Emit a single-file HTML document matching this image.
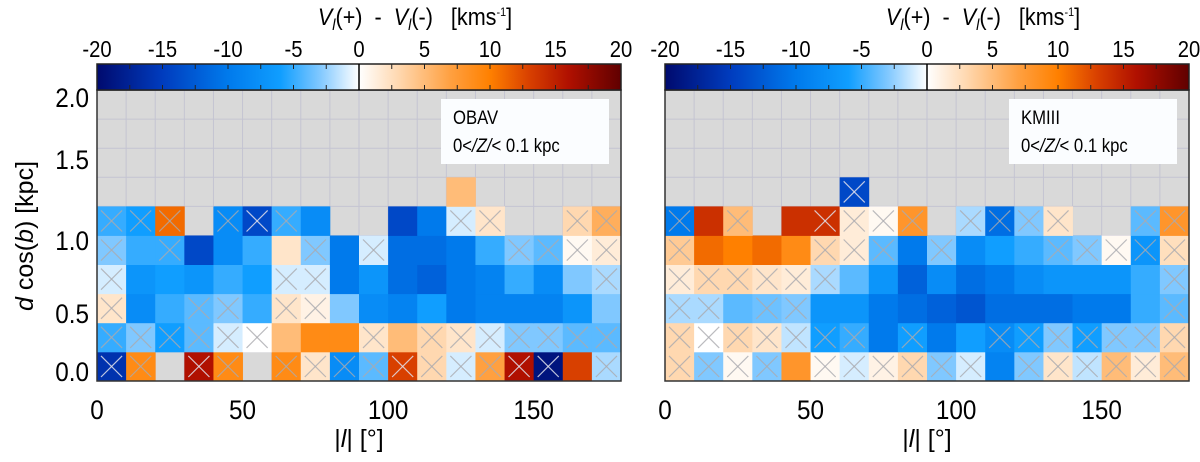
<!DOCTYPE html>
<html><head><meta charset="utf-8">
<style>
body{margin:0;background:#fff;width:1200px;height:457px;overflow:hidden;font-family:"Liberation Sans",sans-serif;}
svg text{font-family:"Liberation Sans",sans-serif;fill:#000;white-space:pre;}
</style></head>
<body>
<svg id="fig" width="1200" height="457" viewBox="0 0 1200 457" xmlns="http://www.w3.org/2000/svg"></svg>
<script>
// ---- data (rows bottom-to-top: d cos(b) bins of 0.2 kpc; columns |l| bins of 10 deg) ----
const lonBins = [0,10,20,30,40,50,60,70,80,90,100,110,120,130,140,150,160,170];
const distBins = [0,0.2,0.4,0.6,0.8,1.0,1.2];
const xTicks = [0,50,100,150];
const yTickLabels = ["0.0","0.5","1.0","1.5","2.0"];
const cbTicks = [-20,-15,-10,-5,0,5,10,15,20];
const N = null;
const obavValues = [
 [-16,9,N,16,9,N,9,2,-8,-4,13,3,-1,7,16,-19,13,-2],
 [-5,-3,-6,-4,-1,0,5,9,9,2,5,3,2,-1,-3,-3,-4,-4],
 [2,-8,-5,-4,-3,-5,2,1,-3,-8,-9,-6,-10,-9,-9,-9,-7,-3],
 [-1,-7,-6,-7,-5,-6,-1,-1,-10,-7,-11,-12,-10,-9,-5,-8,-3,-2],
 [-3,-5,-5,-14,-8,-5,2,-3,-10,-1,-11,-11,-10,-5,-3,-4,0.5,1.5],
 [-5,-6,11,N,-8,-14,-5,-8,N,N,-14,-10,-1,2,N,N,3,6],
 [N,N,N,N,N,N,N,N,N,N,N,N,5,N,N,N,N,N]
];
const obavCross = [
 [1,1,0,1,1,0,1,1,1,1,1,1,1,1,1,1,0,1],
 [1,1,1,1,1,1,0,0,0,1,0,1,1,1,1,1,1,1],
 [1,0,0,1,1,0,1,1,0,0,0,0,0,0,0,0,0,0],
 [1,0,0,0,0,0,1,1,0,0,0,0,0,0,0,0,0,1],
 [1,0,1,0,0,0,0,1,0,1,0,0,0,0,1,1,1,1],
 [1,1,1,0,1,1,1,0,0,0,0,0,1,1,0,0,1,1],
 [0,0,0,0,0,0,0,0,0,0,0,0,0,0,0,0,0,0]
];
const kmValues = [
 [3,-3,0.5,-3,8,0.5,-1,1,3,-3,-1,-9,-3,2,-1.5,5,1.5,5],
 [3,0,3,2,-1.5,-6,-5,-10,-6,-10,-6,-8,-6,-3,-6,-3,-3,3],
 [-2,-2,-4,-3.5,-3,-7,-7,-10,-11,-12,-13,-11,-11,-11,-10,-10,-5,-4],
 [1.5,3,3,2,1.5,-2,-4,-7,-12,-8,-11,-10,-8,-7,-7,-7,-5,-3],
 [4,11,10,11,9,3,1.5,-4,-10,-3,-8,-6,-5,-4,-3,0.5,-7,2.5],
 [-10,14,5,N,14,14,1.5,0.5,8,N,-2,-11,-3,2,N,N,-4,8],
 [N,N,N,N,N,N,-14,N,N,N,N,N,N,N,N,N,N,N]
];
const kmCross = [
 [1,1,1,1,0,1,1,1,1,1,1,0,1,1,1,1,1,1],
 [1,1,1,1,1,1,1,0,1,0,0,1,1,1,1,1,1,1],
 [1,1,0,1,1,0,0,0,0,0,0,0,0,0,0,0,0,1],
 [1,1,1,1,1,1,0,0,0,0,0,0,0,0,0,0,0,1],
 [1,0,0,0,0,1,1,1,0,1,0,0,0,1,1,1,1,1],
 [1,0,1,0,0,1,1,1,1,0,1,1,1,1,0,0,1,1],
 [0,0,0,0,0,0,1,0,0,0,0,0,0,0,0,0,0,0]
];

// ---- colormap ----
const stops=[[-20,[0,10,110]],[-15,[0,60,190]],[-10,[0,122,236]],[-6,[16,158,255]],[-3,[128,200,255]],[0,[255,255,255]],[3,[255,216,176]],[7,[255,160,64]],[10,[255,128,0]],[13,[216,64,0]],[16,[176,16,0]],[20,[96,0,0]]];
function cmap(v){
  v=Math.max(-20,Math.min(20,v));
  for(let i=0;i<stops.length-1;i++){
    const a=stops[i],b=stops[i+1];
    if(v>=a[0]&&v<=b[0]){const t=(v-a[0])/(b[0]-a[0]);
      const c=a[1].map((x,k)=>Math.round(x+(b[1][k]-x)*t));return `rgb(${c[0]},${c[1]},${c[2]})`;}
  }
  return "#fff";
}
const NS="http://www.w3.org/2000/svg";
const svg=document.getElementById('fig');
function mk(tag,attrs,parent){const e=document.createElementNS(NS,tag);for(const k in attrs)e.setAttribute(k,attrs[k]);(parent||svg).appendChild(e);return e;}

const PT=90,PB=381;
function yScale(d){return PB-(d/2.0)*(PB-PT);}
function drawPanel(x0,x1,vals,cross,label,showY,pname){
  const g=mk('g',{});
  
  
  const xs=l=>x0+(l/180)*(x1-x0);
  const bg=mk('rect',{x:x0,y:PT,width:x1-x0,height:PB-PT,fill:'#d9d9d9'},g);
  
  
  for(let i=1;i<18;i++){mk('line',{x1:xs(i*10),x2:xs(i*10),y1:PT,y2:PB,stroke:'#c4c4d2','stroke-width':1},g);}
  for(let j=1;j<10;j++){mk('line',{x1:x0,x2:x1,y1:yScale(j*0.2),y2:yScale(j*0.2),stroke:'#c4c4d2','stroke-width':1},g);}
  for(let r=0;r<vals.length;r++){for(let c=0;c<lonBins.length;c++){
    const v=vals[r][c]; if(v===null)continue;
    const cx=xs(lonBins[c]),cw=xs(lonBins[c]+10)-cx,cy=yScale(distBins[r]+0.2),ch=yScale(distBins[r])-cy;
    const cell=mk('rect',{x:cx,y:cy,width:cw+0.4,height:ch+0.4,fill:cmap(v)},g);
    
    
    if(cross[r][c]){const p=4,col=Math.abs(v)>12?'rgba(225,225,235,0.85)':'rgba(170,170,175,0.8)';
      mk('line',{x1:cx+p,y1:cy+p,x2:cx+cw-p,y2:cy+ch-p,stroke:col,'stroke-width':1.2},g);
      mk('line',{x1:cx+cw-p,y1:cy+p,x2:cx+p,y2:cy+ch-p,stroke:col,'stroke-width':1.2},g);}
  }}
  mk('rect',{x:x0,y:PT,width:x1-x0,height:PB-PT,fill:'none',stroke:'#333','stroke-width':1.5},g);
  // legend box
  const bx=x1-180;
  const box=mk('rect',{x:bx,y:99,width:168,height:65,fill:'#fbfdff'},g);
  
  
  const t1=mk('text',{x:bx+12,y:124,'font-size':19,transform:`translate(${bx+12},0) scale(0.88,1) translate(${-(bx+12)},0)`},g);t1.textContent=label;
  
  
  const t2=mk('text',{x:bx+12,y:152,'font-size':19,transform:`translate(${bx+12},0) scale(0.88,1) translate(${-(bx+12)},0)`},g);
  t2.innerHTML='0&lt;<tspan font-style="italic">/Z/</tspan>&lt; 0.1 kpc';
  
  
  // x ticks
  xTicks.forEach(t=>{const tt=mk('text',{x:xs(t),y:419,'font-size':27,'text-anchor':'middle',transform:`translate(${xs(t)},0) scale(0.9,1) translate(${-xs(t)},0)`},g);tt.textContent=t;
    
    });
  const xt=mk('text',{x:(x0+x1)/2,y:447,'font-size':25,'text-anchor':'middle'},g);
  xt.innerHTML='|<tspan font-style="italic">l</tspan>| [°]';
  
  
  if(showY){
    const ly=[381,323,250,169,107];
    yTickLabels.forEach((s,i)=>{const tt=mk('text',{x:x0-8,y:ly[i],'font-size':27,'text-anchor':'end',transform:`translate(${x0-8},0) scale(0.9,1) translate(${-(x0-8)},0)`},g);tt.textContent=s;
      
      });
  }
  // colorbar
  const cy0=64,cy1=90;
  const grad=mk('linearGradient',{id:'grad'+pname,x1:0,x2:1,y1:0,y2:0},g);
  for(let v=-20;v<=20;v+=1){mk('stop',{offset:((v+20)/40),'stop-color':cmap(v)},grad);}
  const cb=mk('rect',{x:x0,y:cy0,width:x1-x0,height:cy1-cy0,fill:`url(#grad${pname})`,stroke:'#222','stroke-width':1.5},g);
  
  
  const cs=v=>x0+((v+20)/40)*(x1-x0);
  for(let v=-17.5;v<20;v+=2.5){mk('line',{x1:cs(v),x2:cs(v),y1:cy0,y2:cy0+5,stroke:'#222'},g);mk('line',{x1:cs(v),x2:cs(v),y1:cy1-5,y2:cy1,stroke:'#222'},g);}
  mk('line',{x1:cs(0),x2:cs(0),y1:cy0,y2:cy1,stroke:'#000','stroke-width':1.5},g);
  cbTicks.forEach(v=>{const tt=mk('text',{x:cs(v),y:57,'font-size':23,'text-anchor':'middle',transform:`translate(${cs(v)},0) scale(0.88,1) translate(${-cs(v)},0)`},g);tt.textContent=v;
    
    });
  const ctx=(x0+x1)/2+56;
  const ct=mk('text',{x:ctx,y:25,'font-size':24,'text-anchor':'middle',transform:`translate(${ctx},0) scale(0.9,1) translate(${-ctx},0)`},g);
  ct.innerHTML='<tspan font-style="italic">V</tspan><tspan font-style="italic" font-size="16" dy="5">l</tspan><tspan dy="-5">(+)  -  </tspan><tspan font-style="italic">V</tspan><tspan font-style="italic" font-size="16" dy="5">l</tspan><tspan dy="-5">(-)   [kms</tspan><tspan font-size="12" dy="-9">-1</tspan><tspan dy="9">]</tspan>';
  
  
}
drawPanel(97,621,obavValues,obavCross,'OBAV',true,'obav-panel');
drawPanel(665,1189,kmValues,kmCross,'KMIII',false,'kmiii-panel');
const yt=mk('text',{x:0,y:0,'font-size':25,'text-anchor':'middle',transform:'translate(33,236) rotate(-90)'});
yt.innerHTML='<tspan font-style="italic">d</tspan> cos(<tspan font-style="italic">b</tspan>) [kpc]';


</script>
</body></html>
